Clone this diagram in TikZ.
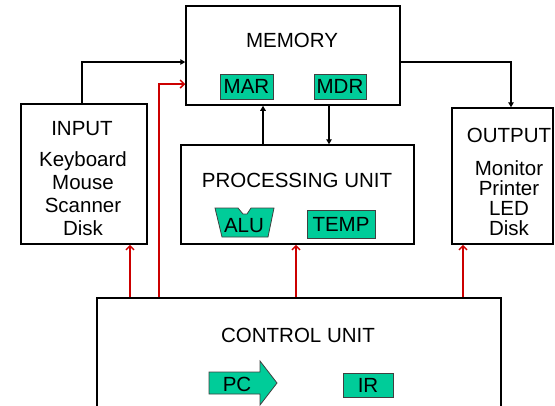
\documentclass[tikz,border=0pt]{standalone}
\usepackage{fontspec}
\setmainfont{Liberation Sans}
\usetikzlibrary{arrows.meta}
\definecolor{regfill}{HTML}{00CC99}
\definecolor{ctrlred}{HTML}{CC0000}

\begin{document}
\begin{tikzpicture}[x=1pt,y=-1pt,
	unit/.style={draw,line width=1.5pt,inner sep=0pt},
	reg/.style={draw=black!75,line width=0.8pt,fill=regfill,inner sep=0pt},
	lbl/.style={inner sep=0pt,anchor=base,align=center},
	data/.style={line width=1.5pt,-{Triangle[length=5pt,width=5.5pt]}},
	ctrl/.style={draw=ctrlred,line width=1.5pt,-{Straight Barb[length=4pt,width=8pt]}},
	font=\fontsize{20.5}{23}\selectfont]
	\clip (0,0) rectangle (555,405);
	
	\node [unit,minimum width=214pt,minimum height=99pt] (memory) at (293,55.5) {};
	\node [unit,minimum width=126pt,minimum height=140pt] (input) at (84,174) {};
	\node [unit,minimum width=233pt,minimum height=99pt] (proc) at (297.5,194.5) {};
	\node [unit,minimum width=101pt,minimum height=136pt] (output) at (502.5,176) {};
	\node [unit,minimum width=404pt,minimum height=132pt] (control) at (299,364) {};
	
	% multi-line labels sit on the baseline of their last line
	\node [lbl] (memlbl) at (292,47) {MEMORY};
	\node [lbl] (inlbl) at (82,135) {INPUT};
	\node [lbl] (indev) at (83,235) {Keyboard\\Mouse\\Scanner\\Disk};
	\node [lbl] (outlbl) at (509,142) {OUTPUT};
	\node [lbl,font=\fontsize{20.5}{20}\selectfont] (outdev) at (509,235) {Monitor\\Printer\\LED\\Disk};
	\node [lbl] (proclbl) at (297,187) {PROCESSING UNIT};
	\node [lbl] (ctrllbl) at (298,342) {CONTROL UNIT};
	
	\node [reg,minimum width=53pt,minimum height=25pt] (mar) at (246.5,86.5) {MAR};
	\node [reg,minimum width=52pt,minimum height=25pt] (mdr) at (340,86.5) {MDR};
	\node [reg,minimum width=68pt,minimum height=28pt] (temp) at (341,224) {TEMP};
	\node [reg,minimum width=50pt,minimum height=24pt] (ir) at (368,385) {IR};
	
	\filldraw [draw=black!75,line width=0.8pt,fill=regfill]
		(215,208) -- (238,208) -- (243,214) -- (247,214) -- (251,208) -- (274,208)
		-- (268,237) -- (222,237) -- cycle;
	\node [lbl] (alu) at (244,232) {ALU};
	
	\filldraw [draw=black!75,line width=0.8pt,fill=regfill]
		(209,372) -- (260,372) -- (260,361) -- (277,383) -- (260,405) -- (260,394)
		-- (209,394) -- cycle;
	\node [lbl] (pc) at (237,391) {PC};
	
	\draw [data] (input.north -| 82,0) |- (memory.west |- 0,62);
	\draw [data] (proc.north -| 263,0) -- (memory.south -| 263,0);
	\draw [data] (memory.south -| 329,0) -- (proc.north -| 329,0);
	\draw [data] (memory.east |- 0,62) -| (output.north -| 511,0);
	
	\draw [ctrl] (control.north -| 159,0) |- (memory.west |- 0,84);
	\foreach \x/\dest in {130/input,296/proc,463/output}
		\draw [ctrl] (control.north -| \x,0) -- (\dest.south -| \x,0);
	
\end{tikzpicture}
\end{document}
